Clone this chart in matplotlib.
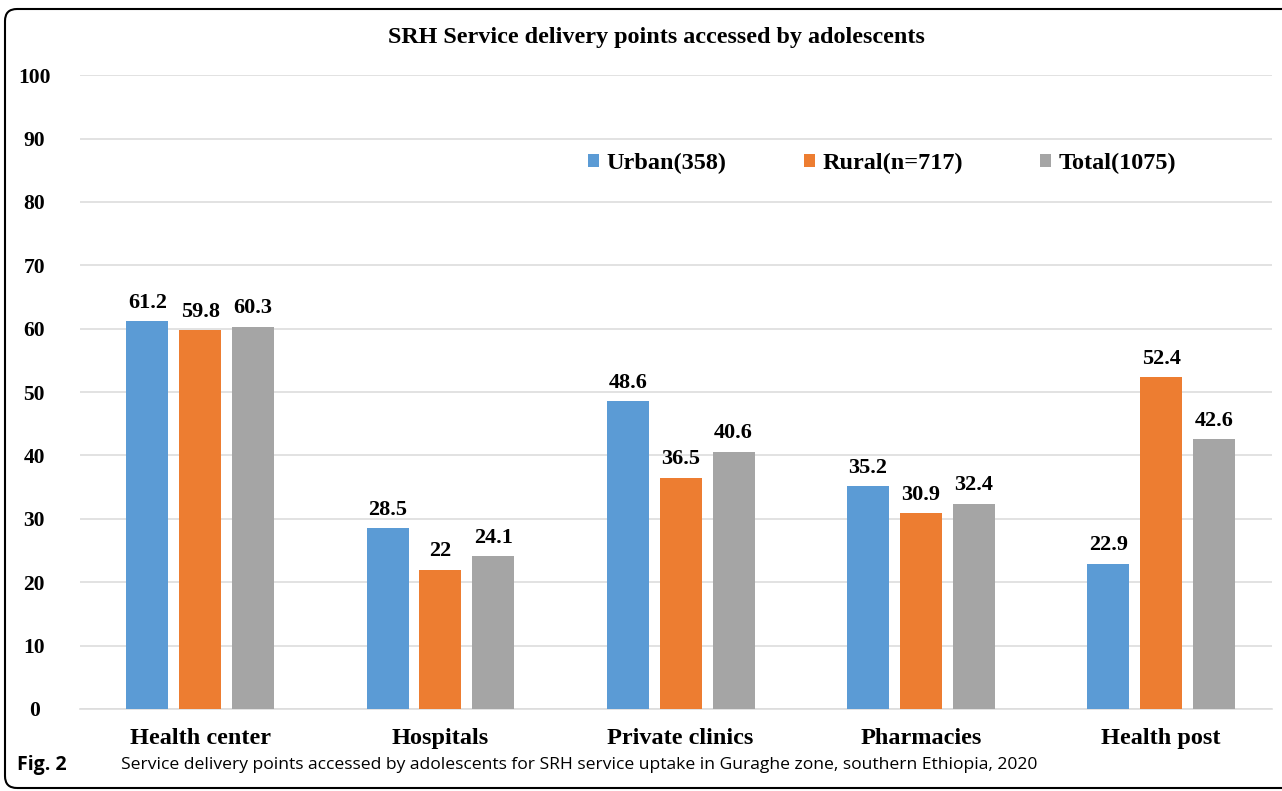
# SRH service delivery points, grouped bar chart
import numpy as np
import matplotlib.pyplot as plt
from matplotlib.patches import FancyBboxPatch

categories = ['Health center', 'Hospitals', 'Private clinics', 'Pharmacies', 'Health post']
urban = [61.2, 28.5, 48.6, 35.2, 22.9]
rural = [59.8, 22, 36.5, 30.9, 52.4]
total = [60.3, 24.1, 40.6, 32.4, 42.6]
series_names = ['Urban(358)', 'Rural(n=717)', 'Total(1075)']
colors = ['#5B9BD5', '#ED7D31', '#A5A5A5']

serif = 'Liberation Serif'

fig = plt.figure(figsize=(12.82, 7.91), dpi=100)
ax = fig.add_axes([0.0624, 0.1037, 0.9296, 0.8013])

x = np.arange(len(categories))
offset = 0.22
width = 0.175
for i, (vals, name, col) in enumerate(zip([urban, rural, total], series_names, colors)):
    bars = ax.bar(x + (i - 1) * offset, vals, width, color=col, label=name, zorder=3)
    for b, v in zip(bars, vals):
        ax.annotate(f'{v:g}', (b.get_x() + b.get_width() / 2, v),
                    xytext=(0, 6), textcoords='offset points',
                    ha='center', va='bottom', fontsize=16,
                    fontweight='bold', family=serif)

ax.set_xlim(-0.5, 4.46)
ax.set_ylim(0, 100)
ax.set_yticks(range(0, 101, 10))
ax.yaxis.grid(True, color='#DDDDDD', linewidth=1.2, zorder=0)
ax.set_xticks(x)
ax.set_xticklabels(categories)
for s in ['top', 'right', 'left']:
    ax.spines[s].set_visible(False)
ax.spines['bottom'].set_color('#DDDDDD')
ax.spines['bottom'].set_linewidth(1.2)
ax.tick_params(length=0)
ax.tick_params(axis='y', pad=33)
ax.tick_params(axis='x', pad=14)
for lbl in ax.get_xticklabels():
    lbl.set_fontsize(17.5)
    lbl.set_fontweight('bold')
    lbl.set_family(serif)
for lbl in ax.get_yticklabels():
    lbl.set_fontsize(15.5)
    lbl.set_fontweight('bold')
    lbl.set_family(serif)
    lbl.set_horizontalalignment('center')

leg = ax.legend(loc='center', bbox_to_anchor=(0.673, 0.861), ncol=3, frameon=False,
                handlelength=0.45, handleheight=0.45, handletextpad=0.3,
                columnspacing=3.2,
                prop={'family': serif, 'weight': 'bold', 'size': 17.5})

fig.text(0.512, 0.953, 'SRH Service delivery points accessed by adolescents',
         ha='center', va='center', fontsize=17.4, fontweight='bold', family=serif)

# caption below the chart
fig.text(0.0133, 0.033, 'Fig. 2', ha='left', va='center', fontsize=14,
         fontweight='bold', family='Open Sans')
fig.text(0.094, 0.033, 'Service delivery points accessed by adolescents for SRH service uptake '
         'in Guraghe zone, southern Ethiopia, 2020', ha='left', va='center',
         fontsize=12.6, family='Open Sans')

frame = FancyBboxPatch((5, 3), 1320, 779, boxstyle='round,pad=0,rounding_size=12',
                       transform=None, fill=False, edgecolor='black', linewidth=1.5)
fig.patches.append(frame)

fig.savefig('out.png', dpi=100)
